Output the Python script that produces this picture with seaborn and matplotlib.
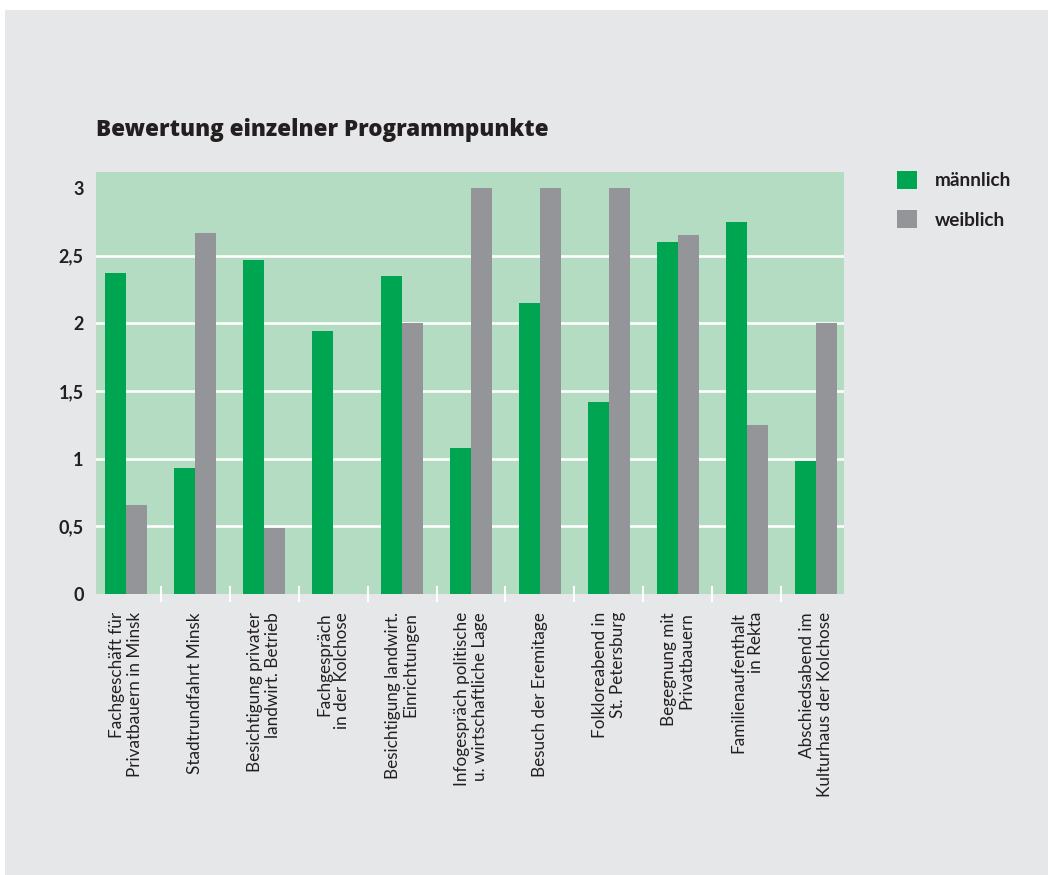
import matplotlib
matplotlib.use("Agg")
import matplotlib.pyplot as plt
from matplotlib.patches import Rectangle, Patch
import seaborn as sns
import pandas as pd

categories = [
    "Fachgeschäft für\nPrivatbauern in Minsk",
    "Stadtrundfahrt Minsk",
    "Besichtigung privater\nlandwirt. Betrieb",
    "Fachgespräch\nin der Kolchose",
    "Besichtigung landwirt.\nEinrichtungen",
    "Infogespräch politische\nu. wirtschaftliche Lage",
    "Besuch der Eremitage",
    "Folkloreabend in\nSt. Petersburg",
    "Begegnung mit\nPrivatbauern",
    "Familienaufenthalt\nin Rekta",
    "Abschiedsabend im\nKulturhaus der Kolchose",
]
maennlich = [2.37, 0.93, 2.47, 1.94, 2.35, 1.08, 2.15, 1.42, 2.60, 2.75, 0.98]
weiblich = [0.66, 2.67, 0.49, 0.0, 2.00, 3.00, 3.00, 3.00, 2.65, 1.25, 2.00]
series = ["männlich", "weiblich"]
yticks = [0, 0.5, 1, 1.5, 2, 2.5, 3]
ytick_labels = ["0", "0,5", "1", "1,5", "2", "2,5", "3"]
title = "Bewertung einzelner Programmpunkte"

GREEN = "#00a551"
GRAY = "#939598"
PLOT_BG = "#b3dcc2"
FIG_BG = "#e6e7e8"
TEXT = "#231f20"

plt.rcParams["font.family"] = ["Lato", "DejaVu Sans"]

df = pd.DataFrame({
    "Kategorie": categories * 2,
    "Geschlecht": [series[0]] * len(categories) + [series[1]] * len(categories),
    "Wert": maennlich + weiblich,
})

W, H = 1048, 875
fig = plt.figure(figsize=(W / 100, H / 100), dpi=100)
fig.patch.set_facecolor("white")
fig.patches.append(Rectangle((5 / W, 0), 1 - 5 / W, 1 - 10 / H,
                             transform=fig.transFigure, facecolor=FIG_BG,
                             edgecolor="none", zorder=-10))

ax = fig.add_axes([96 / W, 1 - 594 / H, (844 - 96) / W, (594 - 172) / H])
ax.set_facecolor(PLOT_BG)

sns.barplot(data=df, x="Kategorie", y="Wert", hue="Geschlecht",
            order=categories, hue_order=series,
            palette=[GREEN, GRAY], width=0.61, saturation=1,
            ax=ax, legend=False)

ax.set_xlim(-0.435, 10.406)
ax.set_ylim(0, 3.117)
for s in ax.spines.values():
    s.set_visible(False)

ax.set_yticks(yticks)
ax.set_yticklabels(ytick_labels, fontsize=13, fontweight="bold", color=TEXT)
ax.tick_params(axis="y", length=0, pad=9)
ax.set_axisbelow(True)
ax.yaxis.grid(True, color="white", linewidth=1.9)
gl = ax.get_ygridlines()
gl[0].set_visible(False)
gl[-1].set_visible(False)
ax.xaxis.grid(False)

ax.set_xticks(range(len(categories)))
ax.set_xticklabels(categories, rotation=90, ha="center", va="top",
                   multialignment="right", fontsize=12.3, color=TEXT,
                   linespacing=1.1)
ax.tick_params(axis="x", length=0, pad=13)
ax.set_xticks([k + 0.5 for k in range(len(categories) - 1)], minor=True)
ax.tick_params(axis="x", which="minor", direction="inout", length=11.5,
               width=1.5, color="white")
ax.set_xlabel("")
ax.set_ylabel("")

fig.text(96 / W, 1 - 136 / H, title, fontsize=16.1, fontweight=800,
         family=["Open Sans", "DejaVu Sans"],
         color=TEXT, ha="left", va="baseline")

handles = [Patch(facecolor=GREEN, edgecolor="none"),
           Patch(facecolor=GRAY, edgecolor="none")]
leg = fig.legend(handles, series, loc="upper left",
                 bbox_to_anchor=(897 / W, 1 - 171 / H),
                 frameon=False, borderpad=0, borderaxespad=0,
                 handlelength=1.05, handleheight=1.05, handletextpad=0.95,
                 labelspacing=1.1, prop={"size": 13.7, "weight": "bold"})
for t in leg.get_texts():
    t.set_color(TEXT)

fig.savefig("out.png", dpi=100, facecolor=fig.get_facecolor())
